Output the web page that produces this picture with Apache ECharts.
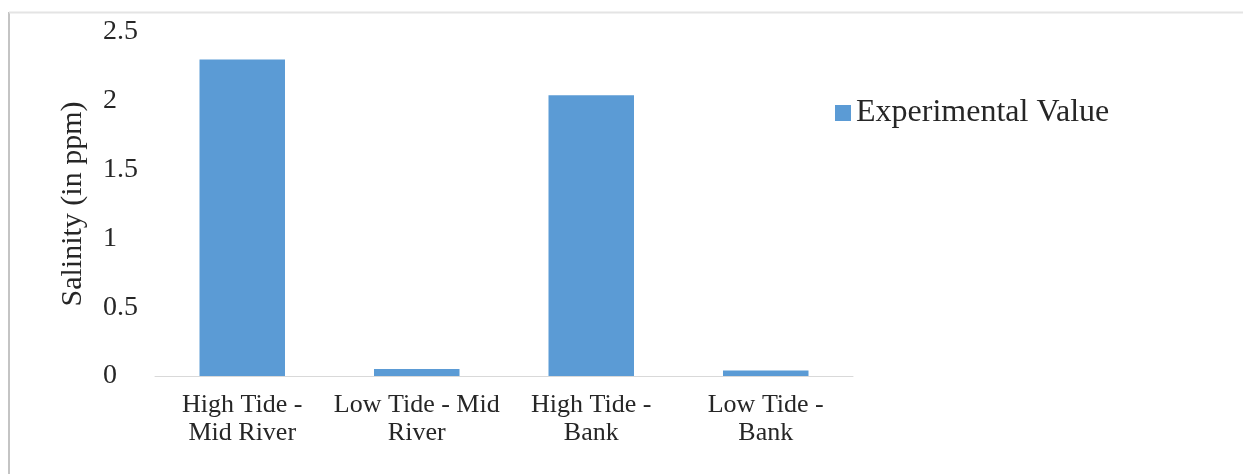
<!DOCTYPE html>
<html>
<head>
<meta charset="utf-8">
<script src="https://cdn.jsdelivr.net/npm/echarts@6/dist/echarts.min.js"></script>
<style>
  html, body { margin: 0; padding: 0; background: #fff; }
  #chart { width: 1243px; height: 474px; }
</style>
</head>
<body>
<div id="chart"></div>
<script>
// Salinity measurements by sampling location and tide
const categories = ['High Tide -\nMid River', 'Low Tide - Mid\nRiver', 'High Tide -\nBank', 'Low Tide -\nBank'];
const seriesName = 'Experimental Value';
const salinity = [2.30, 0.05, 2.04, 0.04];
const yTicks = { min: 0, max: 2.5, interval: 0.5 };
const yAxisTitle = 'Salinity (in ppm)';

const FONT = '"Liberation Serif", "Times New Roman", serif';
const chart = echarts.init(document.getElementById('chart'), null, { renderer: 'canvas' });

chart.setOption({
  animation: false,
  backgroundColor: '#ffffff',
  graphic: [
    { type: 'line', shape: { x1: 9, y1: 12, x2: 9, y2: 474 }, style: { stroke: '#c4c4c4', lineWidth: 2 } },
    { type: 'line', shape: { x1: 9, y1: 12.5, x2: 1243, y2: 12.5 }, style: { stroke: '#e4e4e4', lineWidth: 2 } }
  ],
  grid: { left: 155, right: 390, top: 32, bottom: 98, containLabel: false },
  legend: {
    data: [seriesName],
    left: 830,
    top: 92,
    icon: 'rect',
    itemWidth: 16,
    itemHeight: 16,
    itemGap: 10,
    textStyle: { fontFamily: FONT, fontSize: 32, color: '#262626', padding: [0, 0, 0, 0] }
  },
  xAxis: {
    type: 'category',
    data: categories,
    axisLine: { show: true, lineStyle: { color: '#d9d9d9', width: 1 } },
    axisTick: { show: false },
    axisLabel: {
      interval: 0,
      margin: 15,
      fontFamily: FONT,
      fontSize: 26,
      lineHeight: 28,
      color: '#262626'
    }
  },
  yAxis: {
    type: 'value',
    min: yTicks.min,
    max: yTicks.max,
    interval: yTicks.interval,
    name: yAxisTitle,
    nameLocation: 'middle',
    nameGap: 67,
    nameRotate: 90,
    nameTextStyle: { fontFamily: FONT, fontSize: 30, color: '#262626' },
    axisLine: { show: false },
    axisTick: { show: false },
    splitLine: { show: false },
    axisLabel: {
      align: 'left',
      margin: 52,
      fontFamily: FONT,
      fontSize: 28,
      color: '#262626'
    }
  },
  series: [{
    name: seriesName,
    type: 'bar',
    data: salinity,
    barWidth: '49%',
    itemStyle: { color: '#5B9BD5' }
  }]
});
</script>
</body>
</html>
